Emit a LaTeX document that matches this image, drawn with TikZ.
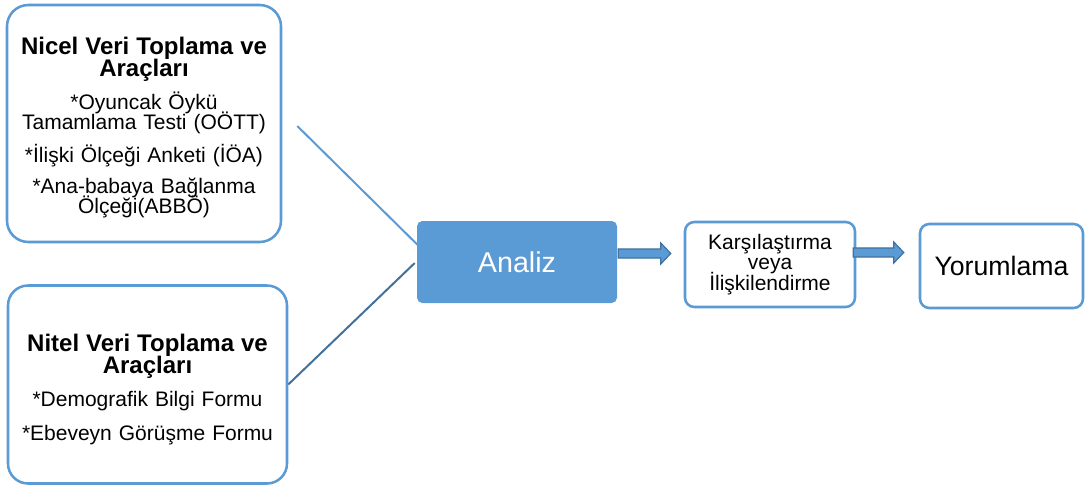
\documentclass[tikz,border=0pt]{standalone}
\usepackage{fontspec}
\setmainfont{Liberation Sans}
\usetikzlibrary{calc}

\definecolor{boxblue}{RGB}{91,155,213}
\definecolor{edgeblue}{RGB}{65,113,156}

\newcommand\ttl{\fontsize{18}{16.5}\selectfont\bfseries}
\newcommand\txt[2]{\fontsize{#1}{#2}\selectfont\lineskiplimit=-20pt}
% block arrow drawn between two points at the height of the first one
\newcommand\blockarrow[2]{%
  \draw[barrow] let \p1=(#1), \p2=(#2) in
    (\x1,\y1+3.4pt) -- (\x2-7.5pt,\y1+3.4pt) -- (\x2-7.5pt,\y1+7.9pt) -- (\x2,\y1)
    -- (\x2-7.5pt,\y1-7.9pt) -- (\x2-7.5pt,\y1-3.4pt) -- (\x1,\y1-3.4pt) -- cycle;}

\begin{document}
\begin{tikzpicture}[x=0.75pt,y=-0.75pt,
    frame/.style={draw=boxblue, line width=1.9pt, fill=white, inner sep=0pt, align=center},
    barrow/.style={fill=boxblue, draw=edgeblue, line width=0.9pt, line join=miter},
    font=\txt{15.75}{15}]
    \useasboundingbox (0,0) rectangle (1086,485);

    \node[frame, rounded corners=16pt, minimum width=205.5pt, minimum height=177.75pt, text width=200pt] (nicel) at (144,123.5)
        {{\ttl\rule{0pt}{19.1pt}Nicel Veri Toplama ve\\Araçları\par}\vspace{9.75pt}
         *Oyuncak Öykü\\Tamamlama Testi (OÖTT)\par\vspace{9.75pt}
         *İlişki Ölçeği Anketi (İÖA)\par\vspace{8.25pt}
         *Ana-babaya Bağlanma\\Ölçeği(ABBÖ)};
    \node[frame, rounded corners=15pt, minimum width=209.25pt, minimum height=148.5pt, text width=200pt] (nitel) at (147.5,384.5)
        {{\ttl\rule{0pt}{20.6pt}Nitel Veri Toplama ve\\Araçları\par}\vspace{9.75pt}
         *Demografik Bilgi Formu\par\vspace{10.5pt}
         *Ebeveyn Görüşme Formu};

    \node[fill=boxblue, rounded corners=4pt, minimum width=150pt, minimum height=61.5pt, text=white,
        font=\txt{21.5}{24}] (analiz) at (517,262) {Analiz};
    \node[frame, rounded corners=7pt, minimum width=127.5pt, minimum height=63.75pt,
        font=\txt{15.75}{15.4}] (karsi) at (770,264.5) {Karşılaştırma\\veya\\İlişkilendirme};
    \node[frame, rounded corners=7pt, minimum width=122.25pt, minimum height=63pt,
        font=\txt{20}{22}] (yorum) at (1001.5,266) {Yorumlama};

    \draw[boxblue, line width=1.5pt] ($(nicel.east)+(15,2.5)$) -- ($(analiz.west)+(1,-17)$);
    \draw[edgeblue, line width=1.5pt] (nitel.east) -- ($(analiz.west)+(-2,1)$);

    \blockarrow{$(analiz.east)+(1,-8.5)$}{$(karsi.west)+(-13,0)$}
    \blockarrow{$(karsi.east)+(-3,-12)$}{$(yorum.west)+(-15,0)$}
\end{tikzpicture}
\end{document}
